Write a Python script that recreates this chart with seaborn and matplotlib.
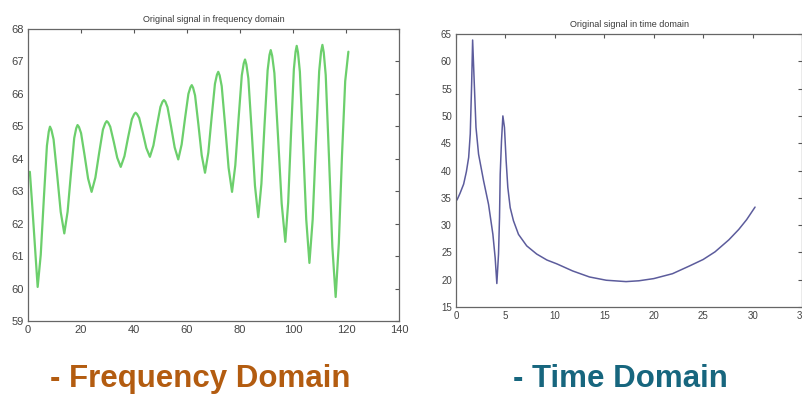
import matplotlib
matplotlib.use("Agg")
import matplotlib.pyplot as plt
import seaborn as sns
import pandas as pd

# ---------------- data: frequency-domain signal -------------
freq_x = [0.7, 1.44, 2.18, 2.91, 3.65,
          4.81, 5.98, 7.14, 7.84, 8.3, 8.84, 9.65, 11.0, 12.35, 13.7,
          14.95, 16.2, 17.45, 18.2, 18.7, 19.23, 20.03, 21.35, 22.68, 24.0,
          25.43, 26.85, 28.28, 29.13, 29.7, 30.23, 31.03, 32.35, 33.68, 35.0,
          36.4, 37.8, 39.2, 40.04, 40.6, 41.14, 41.95, 43.3, 44.65, 46.0,
          47.33, 48.65, 49.98, 50.77, 51.3, 51.84, 52.65, 54.0, 55.35, 56.7,
          57.98, 59.25, 60.53, 61.29, 61.8, 62.3, 63.05, 64.3, 65.55, 66.8,
          68.05, 69.3, 70.55, 71.3, 71.8, 72.32, 73.1, 74.4, 75.7, 77.0,
          78.23, 79.45, 80.68, 81.41, 81.9, 82.4, 83.15, 84.4, 85.65, 86.9,
          88.08, 89.25, 90.43, 91.13, 91.6, 92.15, 92.98, 94.35, 95.73, 97.1,
          98.18, 99.25, 100.33, 100.97, 101.4, 101.88, 102.6, 103.8, 105.0, 106.2,
          107.43, 108.65, 109.88, 110.61, 111.1, 111.6, 112.35, 113.6, 114.85, 116.1,
          117.3, 118.5, 119.7, 120.9]
freq_y = [63.6, 62.75, 61.85, 60.95, 60.05,
          61.04, 62.77, 64.40, 64.84, 64.99, 64.89, 64.60, 63.51, 62.36, 61.70,
          62.37, 63.54, 64.64, 64.94, 65.04, 64.98, 64.79, 64.11, 63.39, 62.98,
          63.42, 64.18, 64.90, 65.09, 65.16, 65.12, 64.99, 64.53, 64.03, 63.75,
          64.08, 64.67, 65.22, 65.37, 65.42, 65.38, 65.26, 64.81, 64.33, 64.06,
          64.41, 65.02, 65.60, 65.76, 65.81, 65.76, 65.59, 64.99, 64.35, 63.98,
          64.44, 65.24, 66.00, 66.20, 66.27, 66.19, 65.95, 65.06, 64.11, 63.57,
          64.19, 65.28, 66.31, 66.59, 66.68, 66.57, 66.24, 65.02, 63.72, 62.98,
          63.80, 65.22, 66.57, 66.94, 67.06, 66.91, 66.48, 64.87, 63.17, 62.20,
          63.23, 65.03, 66.73, 67.20, 67.35, 67.17, 66.64, 64.69, 62.62, 61.44,
          62.65, 64.76, 66.76, 67.30, 67.48, 67.28, 66.68, 64.47, 62.13, 60.79,
          62.13, 64.49, 66.70, 67.31, 67.51, 67.28, 66.58, 64.01, 61.29, 59.74,
          61.40, 64.12, 66.39, 67.30]

# ---------------- data: time-domain signal -------------------------------------
time_x = [0.1, 0.4, 0.77, 1.05, 1.28, 1.44, 1.58, 1.68, 1.85, 2.02, 2.28, 2.79,
          3.29, 3.73, 3.96, 4.13, 4.3, 4.4, 4.47, 4.6, 4.74, 4.9, 5.07, 5.24,
          5.48, 5.81, 6.32, 7.15, 8.16, 9.2, 10.2, 11.8, 13.5, 15.2, 17.2, 18.5,
          20.0, 21.9, 23.6, 25.0, 26.2, 27.6, 28.6, 29.4, 30.25]
time_y = [34.6, 35.8, 37.5, 39.8, 42.4, 46.7, 55.8, 63.9, 55.8, 47.9, 43.0, 38.1,
          33.8, 28.3, 24.0, 19.3, 24.7, 31.4, 39.3, 45.4, 50.0, 47.9, 41.8, 36.9,
          33.2, 30.8, 28.3, 26.2, 24.7, 23.6, 22.9, 21.6, 20.5, 19.9, 19.65, 19.8,
          20.2, 21.1, 22.5, 23.7, 25.1, 27.3, 29.2, 31.0, 33.3]

freq_xticks = [0, 20, 40, 60, 80, 100, 120, 140]
freq_yticks = [59, 60, 61, 62, 63, 64, 65, 66, 67, 68]
time_xticks = [0, 5, 10, 15, 20, 25, 30, 35]
time_yticks = [15, 20, 25, 30, 35, 40, 45, 50, 55, 60, 65]

title_freq = "Original signal in frequency domain"
title_time = "Original signal in time domain"
label_freq = "- Frequency Domain"
label_time = "- Time Domain"

# ---------------- plotting ------------------------------------------------------
sns.set_style("white")
plt.rcParams["font.family"] = ["Liberation Sans", "DejaVu Sans"]

fig = plt.figure(figsize=(8.02, 3.95), dpi=100)
ax1 = fig.add_axes([0.0349, 0.1873, 0.4626, 0.7393])
ax2 = fig.add_axes([0.5686, 0.2228, 0.4314, 0.6911])

df_f = pd.DataFrame({"x": freq_x, "y": freq_y})
df_t = pd.DataFrame({"x": time_x, "y": time_y})

sns.lineplot(data=df_f, x="x", y="y", ax=ax1, color="#6ccf6c", linewidth=1.6)
sns.lineplot(data=df_t, x="x", y="y", ax=ax2, color="#5c5c9c", linewidth=1.1)

for ax, xt, yt, title, fs in [
    (ax1, freq_xticks, freq_yticks, title_freq, 8),
    (ax2, time_xticks, time_yticks, title_time, 7),
]:
    ax.set_xlim(xt[0], xt[-1])
    ax.set_ylim(yt[0], yt[-1])
    ax.set_xticks(xt)
    ax.set_yticks(yt)
    ax.set_xlabel("")
    ax.set_ylabel("")
    ax.tick_params(direction="in", top=True, right=True, length=3,
                   width=0.8, color="#555555", labelcolor="#444444",
                   labelsize=fs, pad=3)
    for s in ax.spines.values():
        s.set_color("#666666")
        s.set_linewidth(0.9)
        s.set_visible(True)
    ax.set_title(title, fontsize=6.5, color="#3a3a3a", pad=5)
    ax.grid(False)

fig.text(0.0623, 0.0203, label_freq, fontsize=22.5, fontweight="bold",
         color="#b35c10", va="baseline", ha="left", family=["Liberation Sans", "DejaVu Sans"])
fig.text(0.6397, 0.0203, label_time, fontsize=22.5, fontweight="bold",
         color="#17667e", va="baseline", ha="left", family=["Liberation Sans", "DejaVu Sans"])

fig.savefig("out.png", dpi=100)
